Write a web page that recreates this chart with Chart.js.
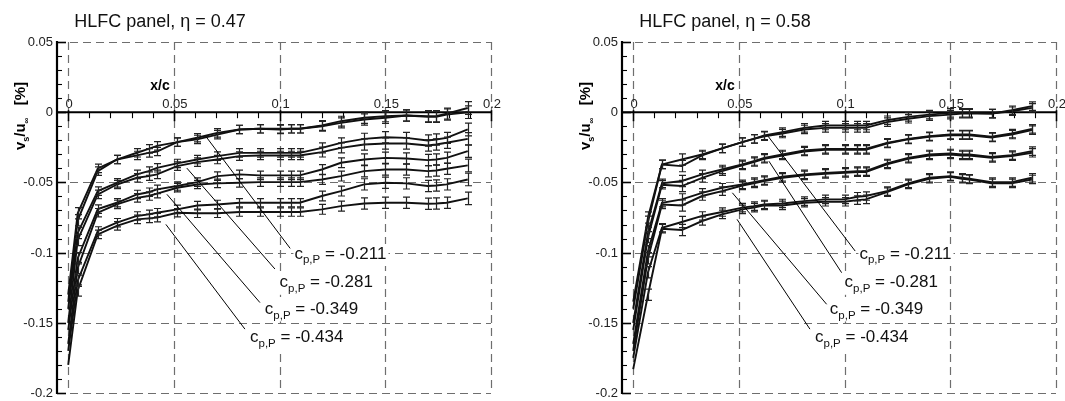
<!DOCTYPE html>
<html>
<head>
<meta charset="utf-8">
<script src="https://cdn.jsdelivr.net/npm/chart.js@4.4.1/dist/chart.umd.min.js"></script>
<style>
  html, body { margin: 0; padding: 0; background: #fff; }
  #wrap { position: relative; width: 1065px; height: 401px; overflow: hidden; }
  .panel { position: absolute; top: 0; }
</style>
</head>
<body>
<div id="wrap">
  <div class="panel" style="left:0"><canvas id="cL" width="532" height="401"></canvas></div>
  <div class="panel" style="left:565px"><canvas id="cR" width="500" height="401"></canvas></div>
</div>
<script>
// ---- data: left panel (eta = 0.47) ----
const xL = [0, 0.0045, 0.014, 0.023, 0.0325, 0.038, 0.042, 0.0515, 0.061, 0.0705, 0.081, 0.0905,
            0.1, 0.1055, 0.1095, 0.12, 0.129, 0.14, 0.15, 0.16, 0.17, 0.174, 0.179, 0.189];
const L211a = [-0.130, -0.072, -0.040, -0.0337, -0.0289, -0.0261, -0.024, -0.0213, -0.0182, -0.0147, -0.0123, -0.0118,
               -0.0118, -0.0118, -0.0118, -0.0095, -0.0064, -0.004, -0.0028, -0.0024, -0.0028, -0.0028, -0.001, 0.003];
const L211b = [-0.135, -0.077, -0.042, -0.0337, -0.0308, -0.029, -0.028, -0.0213, -0.0194, -0.016, -0.0123, -0.0118,
               -0.0123, -0.0118, -0.0118, -0.010, -0.0076, -0.0052, -0.004, -0.0024, -0.0033, -0.0033, -0.0017, 0.000];
const L281a = [-0.140, -0.086, -0.0562, -0.0503, -0.0443, -0.042, -0.0396, -0.0365, -0.0337, -0.0313, -0.029, -0.029,
               -0.029, -0.029, -0.029, -0.0254, -0.0218, -0.019, -0.0178, -0.0183, -0.0202, -0.0194, -0.0183, -0.0123];
const L281b = [-0.150, -0.091, -0.0585, -0.0515, -0.0467, -0.0455, -0.0443, -0.0384, -0.0356, -0.0337, -0.0313, -0.0308,
               -0.0308, -0.0308, -0.0308, -0.0284, -0.0254, -0.0230, -0.0223, -0.0223, -0.0237, -0.0230, -0.0218, -0.019];
const L349a = [-0.155, -0.104, -0.069, -0.0645, -0.0586, -0.057, -0.055, -0.0526, -0.0498, -0.0455, -0.0443, -0.045,
               -0.045, -0.045, -0.045, -0.0408, -0.036, -0.0337, -0.0325, -0.033, -0.0341, -0.0337, -0.0325, -0.0277];
const L349b = [-0.165, -0.111, -0.0716, -0.0657, -0.061, -0.0597, -0.058, -0.0538, -0.0515, -0.0507, -0.0503, -0.0498,
               -0.0498, -0.0498, -0.0498, -0.0479, -0.0455, -0.042, -0.0408, -0.0408, -0.042, -0.0415, -0.0403, -0.0379];
const L434a = [-0.170, -0.120, -0.0846, -0.0787, -0.0739, -0.0728, -0.0716, -0.0692, -0.0665, -0.0657, -0.0645, -0.0645,
               -0.0645, -0.0645, -0.0645, -0.0597, -0.0562, -0.0514, -0.0503, -0.0507, -0.0526, -0.0522, -0.0514, -0.0479];
const L434b = [-0.180, -0.127, -0.087, -0.081, -0.0763, -0.0756, -0.0751, -0.0716, -0.0720, -0.0720, -0.0711, -0.0711,
               -0.0711, -0.0711, -0.0711, -0.0692, -0.0669, -0.065, -0.0645, -0.0645, -0.0652, -0.065, -0.0645, -0.0614];
const errL = [0, 0.004, 0.003, 0.003, 0.003, 0.003, 0.003, 0.003, 0.003, 0.003, 0.003, 0.003,
              0.003, 0.003, 0.003, 0.0035, 0.0035, 0.004, 0.004, 0.004, 0.004, 0.004, 0.004, 0.0045];

// ---- data: right panel (eta = 0.58) ----
const xR = [0, 0.007, 0.0136, 0.023, 0.0326, 0.042, 0.0516, 0.057, 0.062, 0.0706, 0.0808, 0.0907,
            0.1, 0.106, 0.11, 0.12, 0.13, 0.14, 0.15, 0.1555, 0.159, 0.1695, 0.179, 0.1886];
const R211a = [-0.135, -0.075, -0.0372, -0.0337, -0.0301, -0.0258, -0.0213, -0.019, -0.0166, -0.0142, -0.0112, -0.0095,
               -0.0095, -0.0095, -0.0095, -0.0057, -0.0033, -0.0017, -0.0005, -0.0005, -0.0005, -0.001, 0.0014, 0.0043];
const R211b = [-0.140, -0.078, -0.0372, -0.0384, -0.0308, -0.0258, -0.0213, -0.019, -0.0171, -0.0152, -0.0123, -0.0112,
               -0.0112, -0.0112, -0.0112, -0.0071, -0.0047, -0.0028, -0.0017, -0.0010, -0.0010, -0.0010, 0.0007, 0.0031];
const R281a = [-0.150, -0.086, -0.0507, -0.049, -0.0443, -0.0408, -0.0372, -0.0348, -0.0325, -0.0301, -0.0273, -0.0261,
               -0.0261, -0.0261, -0.0261, -0.0218, -0.019, -0.0171, -0.0159, -0.0159, -0.0159, -0.0175, -0.0152, -0.0119];
const R281b = [-0.155, -0.089, -0.0517, -0.0526, -0.0467, -0.042, -0.0379, -0.0355, -0.0332, -0.0308, -0.028, -0.0268,
               -0.0268, -0.0268, -0.0268, -0.0223, -0.0194, -0.0175, -0.0164, -0.0164, -0.0164, -0.018, -0.0159, -0.0128];
const R349a = [-0.165, -0.099, -0.0645, -0.0621, -0.0574, -0.0538, -0.0514, -0.0498, -0.0484, -0.046, -0.0443, -0.0432,
               -0.0425, -0.042, -0.042, -0.0365, -0.0325, -0.0301, -0.0294, -0.0301, -0.0301, -0.0318, -0.0306, -0.0277];
const R349b = [-0.170, -0.104, -0.0657, -0.0664, -0.0597, -0.0562, -0.0522, -0.0507, -0.049, -0.0467, -0.045, -0.0439,
               -0.0432, -0.0427, -0.0427, -0.0372, -0.0332, -0.0308, -0.0301, -0.0308, -0.0308, -0.0325, -0.0313, -0.0289];
const R434a = [-0.175, -0.114, -0.0823, -0.0782, -0.0739, -0.0711, -0.068, -0.0669, -0.0657, -0.065, -0.0633, -0.0621,
               -0.0621, -0.0602, -0.0597, -0.0562, -0.0507, -0.0467, -0.0455, -0.0467, -0.0474, -0.0498, -0.0498, -0.0467];
const R434b = [-0.183, -0.130, -0.083, -0.0839, -0.0775, -0.0728, -0.0692, -0.068, -0.0664, -0.0664, -0.0645, -0.0638,
               -0.0638, -0.0626, -0.0621, -0.0569, -0.0514, -0.0474, -0.046, -0.0474, -0.0479, -0.0507, -0.0507, -0.0479];
const errR = [0, 0.004, 0.003, 0.004, 0.003, 0.003, 0.003, 0.003, 0.003, 0.003, 0.003, 0.003,
              0.003, 0.003, 0.003, 0.003, 0.003, 0.003, 0.003, 0.003, 0.003, 0.003, 0.003, 0.003];

// ---- axes, ticks, labels ----
const xTicks = [0, 0.05, 0.1, 0.15, 0.2];
const xTickLabels = ['0', '0.05', '0.1', '0.15', '0.2'];
const yTicks = [0.05, 0, -0.05, -0.1, -0.15, -0.2];
const yTickLabels = ['0.05', '0', '-0.05', '-0.1', '-0.15', '-0.2'];
const cpValues = ['-0.211', '-0.281', '-0.349', '-0.434'];
const cpLabelX = [0.107, 0.100, 0.093, 0.086];
const cpLabelY = [-0.101, -0.1215, -0.1405, -0.1605];
// leader lines: [x0, y0, x1, y1] in data units
const leadersL = [[0.065, -0.017, 0.105, -0.097], [0.0561, -0.0398, 0.0978, -0.1117],
                  [0.0467, -0.0585, 0.0907, -0.1356], [0.0462, -0.0799, 0.0836, -0.1545]];
const leadersR = [[0.0638, -0.0171, 0.105, -0.0989], [0.0642, -0.0349, 0.0986, -0.1143],
                  [0.0469, -0.0574, 0.0915, -0.1368], [0.0491, -0.0763, 0.0836, -0.1545]];

const FONT = '"Liberation Sans", Arial, Helvetica, sans-serif';

function drawParts(ctx, parts, x, y) {
  let w = 0;
  parts.forEach(p => { ctx.font = p.f; p.w = ctx.measureText(p.t).width; w += p.w; });
  let cx = x;
  parts.forEach(p => { ctx.font = p.f; ctx.fillText(p.t, cx, y + (p.dy || 0)); cx += p.w; });
  return w;
}

const panelPlugin = {
  id: 'panelDeco',
  beforeDatasetsDraw(chart, args, opts) {
    const { ctx, scales: { x, y } } = chart;
    const X = v => x.getPixelForValue(v), Y = v => y.getPixelForValue(v);
    const left = chart.chartArea.left;
    ctx.save();
    // dashed grid
    ctx.strokeStyle = '#6e6e6e';
    ctx.lineWidth = 1.2;
    ctx.setLineDash([8, 5]);
    xTicks.forEach(v => {
      const px = Math.round(X(v)) + 0.5;
      ctx.beginPath(); ctx.moveTo(px, Y(0.05)); ctx.lineTo(px, Y(-0.2)); ctx.stroke();
    });
    yTicks.filter(v => v !== 0).forEach(v => {
      const py = Math.round(Y(v)) + 0.5;
      ctx.beginPath(); ctx.moveTo(left, py); ctx.lineTo(X(0.2), py); ctx.stroke();
    });
    ctx.setLineDash([]);
    // axis lines
    ctx.strokeStyle = '#000';
    ctx.lineWidth = 2.2;
    ctx.beginPath(); ctx.moveTo(left, Y(0.05) - 1); ctx.lineTo(left, Y(-0.2) + 1); ctx.stroke();
    ctx.lineWidth = 2;
    ctx.beginPath(); ctx.moveTo(left, Y(0)); ctx.lineTo(X(0.2) + 1, Y(0)); ctx.stroke();
    // y ticks (inward), minor every 0.01
    for (let i = -20; i <= 5; i++) {
      const major = i % 5 === 0;
      const py = Math.round(Y(i / 100)) + 0.5;
      ctx.lineWidth = major ? 1.6 : 1.1;
      ctx.beginPath(); ctx.moveTo(left, py); ctx.lineTo(left + (major ? 9 : 5), py); ctx.stroke();
    }
    // x ticks (downward), minor every 0.01
    for (let i = 0; i <= 20; i++) {
      const major = i % 5 === 0;
      const px = Math.round(X(i / 100)) + 0.5;
      ctx.lineWidth = major ? 1.6 : 1.1;
      ctx.beginPath(); ctx.moveTo(px, Y(0) - (major ? 2 : 0)); ctx.lineTo(px, Y(0) + (major ? 9 : 6)); ctx.stroke();
    }
    // tick labels
    ctx.fillStyle = '#222';
    ctx.font = '13px ' + FONT;
    ctx.textBaseline = 'middle';
    ctx.textAlign = 'right';
    yTicks.forEach((v, i) => ctx.fillText(yTickLabels[i], left - 4, Y(v) + 0.5));
    ctx.textAlign = 'center';
    xTicks.forEach((v, i) => ctx.fillText(xTickLabels[i], X(v) + 1, Y(0) - 8));
    // axis titles
    ctx.fillStyle = '#000';
    ctx.textBaseline = 'alphabetic';
    ctx.font = 'bold 14px ' + FONT;
    ctx.fillText('x/c', 160, 90);
    ctx.font = '18px ' + FONT;
    ctx.fillStyle = '#111';
    ctx.fillText(opts.title, 160, 27);
    // rotated y title
    ctx.save();
    ctx.translate(25, 116);
    ctx.rotate(-Math.PI / 2);
    ctx.textAlign = 'left';
    ctx.fillStyle = '#000';
    const yParts = [
      { t: 'v', f: 'bold 15px ' + FONT },
      { t: 's', f: 'bold 9px ' + FONT, dy: 4 },
      { t: '/u', f: 'bold 15px ' + FONT },
      { t: '\u221e', f: 'bold 8px ' + FONT, dy: 4 },
      { t: '   [%]', f: 'bold 15px ' + FONT }
    ];
    let tw = 0;
    yParts.forEach(p => { ctx.font = p.f; tw += ctx.measureText(p.t).width; });
    drawParts(ctx, yParts, -tw / 2, 0);
    ctx.restore();
    ctx.restore();
  },
  afterDatasetsDraw(chart, args, opts) {
    const { ctx, scales: { x, y } } = chart;
    const X = v => x.getPixelForValue(v), Y = v => y.getPixelForValue(v);
    ctx.save();
    // error bars
    ctx.strokeStyle = '#222';
    ctx.lineWidth = 1.2;
    chart.data.datasets.forEach(ds => {
      ds.data.forEach((p, i) => {
        const e = opts.err[i];
        if (!e) return;
        const px = Math.round(X(p.x)) + 0.5;
        const y0 = Y(p.y + e), y1 = Y(p.y - e);
        ctx.beginPath();
        ctx.moveTo(px, y0); ctx.lineTo(px, y1);
        ctx.moveTo(px - 3.5, y0); ctx.lineTo(px + 3.5, y0);
        ctx.moveTo(px - 3.5, y1); ctx.lineTo(px + 3.5, y1);
        ctx.stroke();
      });
    });
    // leader lines
    ctx.strokeStyle = '#000';
    ctx.lineWidth = 1;
    opts.leaders.forEach(l => {
      ctx.beginPath(); ctx.moveTo(X(l[0]), Y(l[1])); ctx.lineTo(X(l[2]), Y(l[3])); ctx.stroke();
    });
    // cp labels with white background
    ctx.textBaseline = 'middle';
    ctx.textAlign = 'left';
    cpValues.forEach((v, i) => {
      const parts = [
        { t: 'c', f: '17px ' + FONT },
        { t: 'p,P', f: '11.5px ' + FONT, dy: 6 },
        { t: ' = ' + v, f: '17px ' + FONT }
      ];
      let w = 0;
      parts.forEach(p => { ctx.font = p.f; w += ctx.measureText(p.t).width; });
      const lx = X(cpLabelX[i]), ly = Y(cpLabelY[i]);
      ctx.fillStyle = '#fff';
      ctx.fillRect(lx - 1, ly - 10, w + 3, 22);
      ctx.fillStyle = '#111';
      drawParts(ctx, parts, lx, ly);
    });
    ctx.restore();
  }
};

function makePanel(id, title, xs, series, err, leaders, padRight) {
  const datasets = series.map(s => ({
    data: xs.map((xv, i) => ({ x: xv, y: s[i] })),
    showLine: true,
    borderColor: '#111',
    borderWidth: 1.9,
    pointRadius: 0,
    tension: 0,
    fill: false
  }));
  return new Chart(document.getElementById(id), {
    type: 'scatter',
    data: { datasets },
    options: {
      responsive: false,
      animation: false,
      layout: { padding: { left: 57, right: padRight, top: 42, bottom: 8 } },
      scales: {
        x: { type: 'linear', min: -0.0053, max: 0.2, display: false },
        y: { type: 'linear', min: -0.2, max: 0.05, display: false }
      },
      plugins: {
        legend: { display: false },
        tooltip: { enabled: false },
        panelDeco: { title, err, leaders }
      }
    },
    plugins: [panelPlugin]
  });
}

makePanel('cL', 'HLFC panel, \u03b7 = 0.47', xL,
  [L211a, L211b, L281a, L281b, L349a, L349b, L434a, L434b], errL, leadersL, 41);
makePanel('cR', 'HLFC panel, \u03b7 = 0.58', xR,
  [R211a, R211b, R281a, R281b, R349a, R349b, R434a, R434b], errR, leadersR, 9);
</script>
</body>
</html>
